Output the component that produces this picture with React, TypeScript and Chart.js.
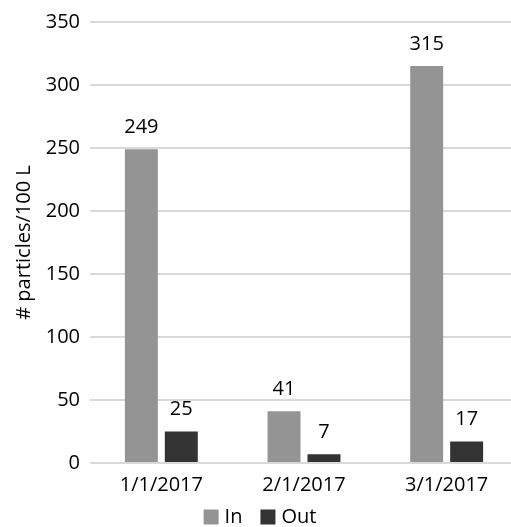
import React, { useEffect, useRef } from "react";
import { Chart, registerables } from "chart.js";

Chart.register(...registerables);

const categories = ["1/1/2017", "2/1/2017", "3/1/2017"];
const inValues = [249, 41, 315];
const outValues = [25, 7, 17];
const seriesNames = ["In", "Out"];
const yTitle = "# particles/100 L";

const FONT = "'Open Sans', 'DejaVu Sans', sans-serif";
const FS = 20;

const dataLabels = {
  id: "dataLabels",
  afterDatasetsDraw(chart: any) {
    const ctx = chart.ctx;
    ctx.save();
    ctx.font = `${FS}px ${FONT}`;
    ctx.fillStyle = "#000";
    ctx.textAlign = "center";
    ctx.textBaseline = "middle";
    chart.data.datasets.forEach((ds: any, i: number) => {
      const meta = chart.getDatasetMeta(i);
      meta.data.forEach((el: any, j: number) => {
        ctx.fillText(String(ds.data[j]), el.x, el.y - 22);
      });
    });
    ctx.restore();
  },
};

const bottomLegend = {
  id: "bottomLegend",
  afterDraw(chart: any) {
    const ctx = chart.ctx;
    ctx.save();
    ctx.font = `${FS}px ${FONT}`;
    ctx.textBaseline = "middle";
    ctx.textAlign = "left";
    const box = 15, gap = 6, itemGap = 18;
    const items = chart.data.datasets.map((ds: any) => ({
      label: ds.label,
      color: ds.backgroundColor,
      w: box + gap + ctx.measureText(ds.label).width,
    }));
    const total = items.reduce((s: number, it: any) => s + it.w, 0) + itemGap * (items.length - 1);
    let x = chart.width / 2 - total / 2;
    const cy = chart.height - 10;
    items.forEach((it: any) => {
      ctx.fillStyle = it.color;
      ctx.fillRect(x, cy - box / 2, box, box);
      ctx.fillStyle = "#000";
      ctx.fillText(it.label, x + box + gap, cy);
      x += it.w + itemGap;
    });
    ctx.restore();
  },
};

export default function App() {
  const ref = useRef<HTMLCanvasElement>(null);
  useEffect(() => {
    if (!ref.current) return;
    const chart = new Chart(ref.current, {
      type: "bar",
      data: {
        labels: categories,
        datasets: [
          {
            label: seriesNames[0],
            data: inValues,
            backgroundColor: "#949494",
            categoryPercentage: 0.56,
            barPercentage: 0.825,
          },
          {
            label: seriesNames[1],
            data: outValues,
            backgroundColor: "#333333",
            categoryPercentage: 0.56,
            barPercentage: 0.825,
          },
        ],
      },
      options: {
        responsive: false,
        animation: false,
        layout: { padding: { top: 9, right: 2, left: 0, bottom: 20 } },
        plugins: {
          tooltip: { enabled: false },
          legend: { display: false },
        },
        scales: {
          x: {
            grid: { display: false, drawTicks: false },
            border: { display: false },
            ticks: { color: "#000", font: { family: FONT, size: FS }, padding: 10 },
          },
          y: {
            min: 0,
            max: 350,
            ticks: {
              stepSize: 50,
              color: "#000",
              font: { family: FONT, size: FS },
              padding: 10,
            },
            grid: { color: "#d9d9d9", lineWidth: 2, drawTicks: false },
            border: { display: false },
            title: {
              display: true,
              text: yTitle,
              color: "#000",
              font: { family: FONT, size: FS },
              padding: { top: 12, bottom: 0 },
            },
            afterFit(scale: any) {
              scale.width = 90;
            },
          },
        },
      },
      plugins: [dataLabels, bottomLegend],
    });
    return () => chart.destroy();
  }, []);
  return (
    <div style={{ position: "fixed", left: 0, top: 0, width: 511, height: 527, overflow: "hidden", background: "#fff" }}>
      <canvas ref={ref} width={520} height={527} style={{ display: "block" }} />
    </div>
  );
}
